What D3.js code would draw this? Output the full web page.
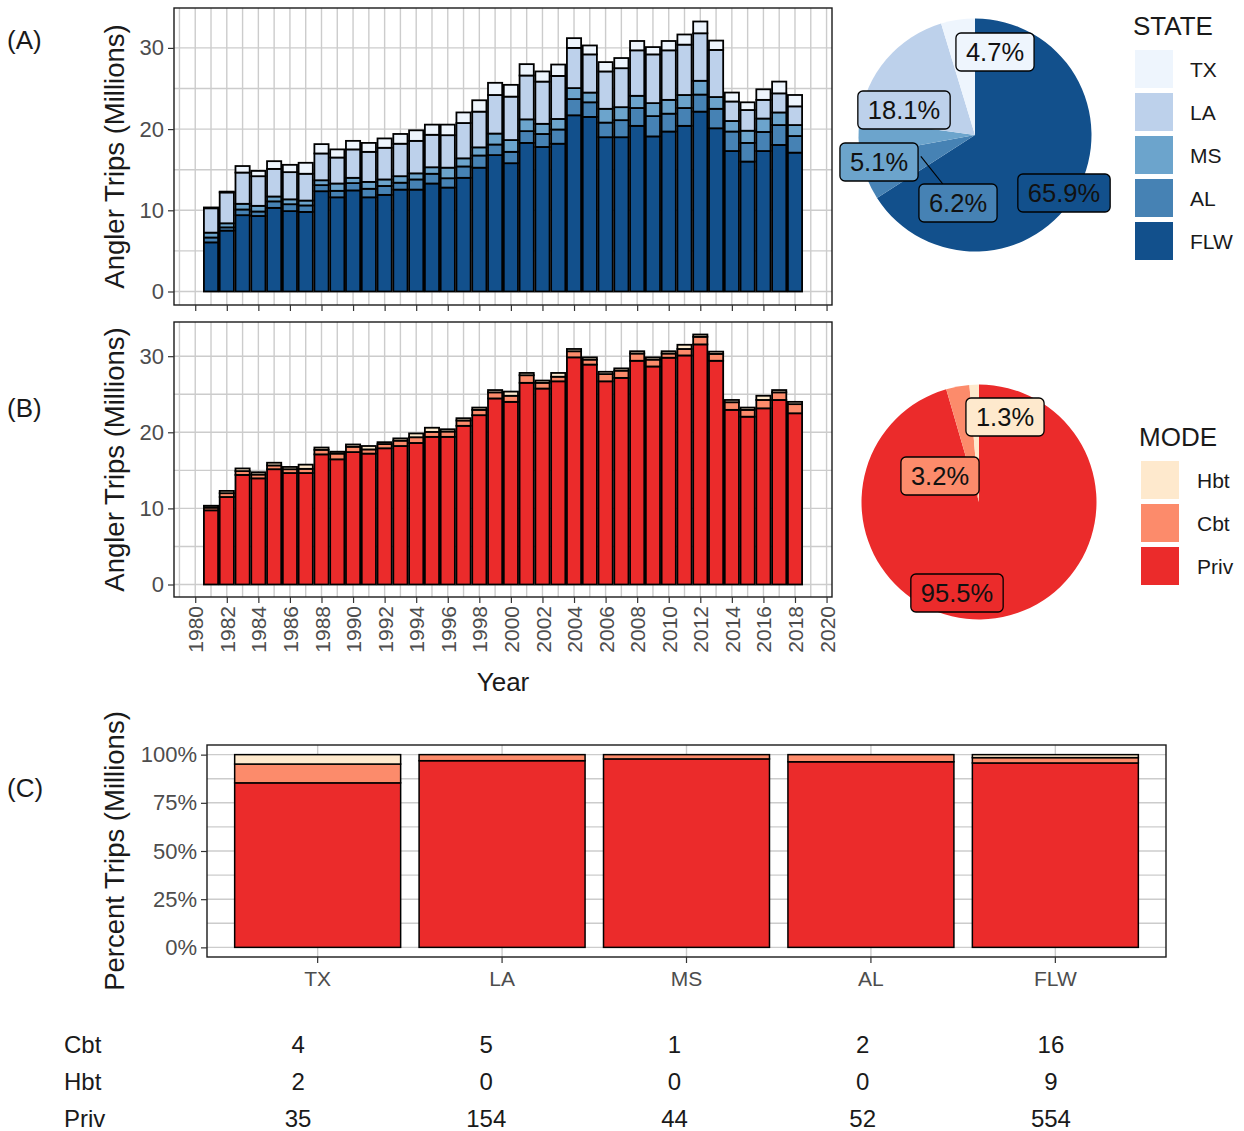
<!DOCTYPE html>
<html>
<head>
<meta charset="utf-8">
<script src="https://cdn.jsdelivr.net/npm/d3@7"></script>
<style>
  body { margin: 0; background: #fff; }
  svg { font-family: "Liberation Sans", Arial, sans-serif; }
</style>
</head>
<body>
<svg id="chart" width="1244" height="1131"></svg>
<script>
// ---- data ----
const years = [1981, 1982, 1983, 1984, 1985, 1986, 1987, 1988, 1989, 1990,
               1991, 1992, 1993, 1994, 1995, 1996, 1997, 1998, 1999, 2000,
               2001, 2002, 2003, 2004, 2005, 2006, 2007, 2008, 2009, 2010,
               2011, 2012, 2013, 2014, 2015, 2016, 2017, 2018];
const yearTicks = [1980, 1982, 1984, 1986, 1988, 1990, 1992, 1994, 1996, 1998, 2000,
                   2002, 2004, 2006, 2008, 2010, 2012, 2014, 2016, 2018, 2020];

// panel A, trips by state (millions)
const tripsFLW = [6.05, 7.5, 9.4, 9.3, 10.3, 9.9, 9.8, 12.35, 11.6, 12.45,
                  11.6, 11.9, 12.55, 12.55, 13.3, 12.8, 14.0, 15.25, 16.8, 15.8,
                  18.3, 17.8, 18.2, 21.7, 21.5, 19.0, 19.0, 20.4, 19.1, 19.7,
                  20.4, 22.15, 20.1, 17.3, 16.0, 17.3, 18.05, 17.1];
const tripsAL = [0.6, 0.4, 0.7, 0.55, 0.8, 0.85, 0.8, 0.75, 0.8, 0.9,
                 1.05, 1.1, 0.85, 1.25, 1.2, 1.15, 1.4, 1.5, 1.3, 1.4,
                 1.45, 1.6, 1.75, 2.0, 1.8, 1.8, 2.1, 2.2, 2.5, 2.2,
                 2.2, 2.1, 2.4, 2.4, 2.3, 2.35, 2.45, 2.05];
const tripsMS = [0.6, 0.5, 0.7, 0.7, 0.6, 0.6, 0.6, 0.6, 0.9, 0.65,
                 0.85, 0.8, 0.8, 0.75, 0.8, 1.3, 1.0, 1.0, 1.35, 1.45,
                 1.45, 1.25, 1.3, 1.35, 1.2, 1.7, 1.6, 1.5, 1.6, 1.7,
                 1.6, 1.7, 1.45, 1.3, 1.5, 1.65, 1.55, 1.35];
const tripsLA = [3.0, 3.8, 3.85, 3.65, 3.4, 3.35, 3.3, 3.3, 3.2, 3.5,
                 3.7, 3.9, 4.0, 4.0, 4.0, 4.0, 4.35, 4.4, 4.75, 5.35,
                 5.4, 5.2, 5.3, 4.95, 4.7, 4.6, 4.8, 5.6, 6.0, 6.1,
                 6.2, 5.85, 5.8, 2.4, 2.55, 2.3, 2.35, 2.3];
const tripsTX = [0.1, 0.1, 0.8, 0.65, 0.95, 0.9, 1.35, 1.15, 1.0, 1.05,
                 1.1, 1.15, 1.2, 1.3, 1.25, 1.3, 1.3, 1.4, 1.5, 1.45,
                 1.4, 1.25, 1.4, 1.2, 1.1, 1.15, 1.25, 1.15, 0.9, 1.15,
                 1.25, 1.45, 1.15, 1.1, 0.95, 1.3, 1.45, 1.4];

// panel B, trips by mode (millions)
const tripsPriv = [9.75, 11.5, 14.4, 13.95, 15.15, 14.65, 14.65, 17.1, 16.45, 17.4,
                   17.2, 17.9, 18.2, 18.6, 19.4, 19.4, 20.85, 22.25, 24.45, 24.0,
                   26.5, 25.75, 26.7, 29.85, 28.9, 26.7, 27.15, 29.4, 28.65, 29.8,
                   30.1, 31.55, 29.4, 22.95, 22.05, 23.15, 24.25, 22.5];
const tripsCbt = [0.35, 0.5, 0.5, 0.5, 0.5, 0.5, 0.55, 0.6, 0.75, 0.7,
                  0.55, 0.55, 0.7, 0.75, 0.65, 0.7, 0.7, 0.7, 0.8, 0.8,
                  1.0, 0.75, 0.6, 0.8, 0.65, 0.95, 0.95, 0.95, 0.9, 0.55,
                  0.85, 1.0, 0.9, 1.0, 0.9, 1.1, 1.0, 1.2];
const tripsHbt = [0.25, 0.3, 0.35, 0.3, 0.35, 0.3, 0.55, 0.3, 0.25, 0.3,
                  0.45, 0.25, 0.3, 0.5, 0.55, 0.3, 0.3, 0.3, 0.3, 0.55,
                  0.3, 0.3, 0.5, 0.3, 0.3, 0.3, 0.3, 0.3, 0.3, 0.3,
                  0.55, 0.3, 0.3, 0.3, 0.3, 0.55, 0.3, 0.3];

// pie shares (%)
const stateKeys = ['FLW', 'AL', 'MS', 'LA', 'TX'];
const statePct = [65.9, 6.2, 5.1, 18.1, 4.7];
const modeKeys = ['Priv', 'Cbt', 'Hbt'];
const modePct = [95.5, 3.2, 1.3];

// panel C counts by state
const states = ['TX', 'LA', 'MS', 'AL', 'FLW'];
const countCbt = [4, 5, 1, 2, 16];
const countHbt = [2, 0, 0, 0, 9];
const countPriv = [35, 154, 44, 52, 554];

// ---- styles ----
const stateColors = { TX: '#eef5fd', LA: '#bdd1eb', MS: '#6ca4cc', AL: '#4682b4', FLW: '#12508c' };
const modeColors = { Hbt: '#fee9cd', Cbt: '#fc8b6b', Priv: '#eb2b2b' };
const gridColor = '#cccccc';
const tickColor = '#4d4d4d';

const svg = d3.select('#chart');

function grid(g, box, xs, ys) {
    g.selectAll(null).data(ys).enter().append('line')
        .attr('x1', box.x0).attr('x2', box.x1)
        .attr('y1', d => d).attr('y2', d => d)
        .attr('stroke', gridColor).attr('stroke-width', 1.4);
    g.selectAll(null).data(xs).enter().append('line')
        .attr('y1', box.y0).attr('y2', box.y1)
        .attr('x1', d => d).attr('x2', d => d)
        .attr('stroke', gridColor).attr('stroke-width', 1.4);
}

function styleAxis(sel, size) {
    sel.select('.domain').remove();
    sel.selectAll('.tick line').attr('stroke', '#333').attr('stroke-width', 1.2);
    sel.selectAll('.tick text').attr('fill', tickColor)
        .style('font-size', size + 'px').style('font-family', '"Liberation Sans", Arial, sans-serif');
}

function yearPanel(box, keys, rows, colors, showLabels) {
    const g = svg.append('g');
    const lo = d3.min(years) - 0.45, hi = d3.max(years) + 0.45, pad = (hi - lo) * 0.05;
    const x = d3.scaleLinear().domain([lo - pad, hi + pad]).range([box.x0, box.x1]);
    const series = d3.stack().keys(keys)(rows);
    const top = d3.max(series[series.length - 1], d => d[1]);
    const y = d3.scaleLinear().domain([-top * 0.05, top * 1.05]).range([box.y1, box.y0]);

    const minorX = yearTicks.map(v => v - 1).concat([yearTicks[yearTicks.length - 1] + 1])
        .filter(v => v > x.domain()[0] && v < x.domain()[1]);
    const majorX = yearTicks.filter(v => v > x.domain()[0] && v < x.domain()[1]);
    const yTicks = [0, 10, 20, 30];
    const minorY = [5, 15, 25, 35].filter(v => v < y.domain()[1]);
    grid(g, box, minorX.concat(majorX).map(x), minorY.concat(yTicks).map(y));

    g.selectAll('g.layer').data(series).enter().append('g')
        .attr('fill', d => colors[d.key])
        .selectAll('rect').data(d => d).enter().append('rect')
        .attr('x', d => x(d.data.year - 0.45))
        .attr('width', d => x(d.data.year + 0.45) - x(d.data.year - 0.45))
        .attr('y', d => y(d[1]))
        .attr('height', d => y(d[0]) - y(d[1]))
        .attr('stroke', '#000').attr('stroke-width', 1.8);

    g.append('rect')
        .attr('x', box.x0).attr('y', box.y0)
        .attr('width', box.x1 - box.x0).attr('height', box.y1 - box.y0)
        .attr('fill', 'none').attr('stroke', '#1a1a1a').attr('stroke-width', 1.4);

    const ya = g.append('g').attr('transform', `translate(${box.x0},0)`)
        .call(d3.axisLeft(y).tickValues(yTicks).tickSize(6).tickPadding(4));
    styleAxis(ya, 22);

    const xa = g.append('g').attr('transform', `translate(0,${box.y1})`)
        .call(d3.axisBottom(x).tickValues(yearTicks).tickSize(6)
            .tickFormat(showLabels ? d3.format('d') : ''));
    styleAxis(xa, 21);
    if (showLabels) {
        xa.selectAll('.tick text')
            .attr('transform', 'rotate(-90)')
            .attr('text-anchor', 'end')
            .attr('x', -9).attr('y', 0).attr('dy', '0.36em');
    }
    return { x, y };
}

function yTitle(text, box) {
    svg.append('text')
        .attr('transform', `translate(124,${(box.y0 + box.y1) / 2}) rotate(-90)`)
        .attr('text-anchor', 'middle')
        .style('font-size', '27.5px').attr('fill', '#1a1a1a')
        .text(text);
}

function tag(text, yy) {
    svg.append('text').attr('x', 7).attr('y', yy)
        .style('font-size', '26px').attr('fill', '#1a1a1a').text(text);
}

function pie(center, r, keys, pct, colors, labelAt, leaderKey) {
    const g = svg.append('g').attr('transform', `translate(${center[0]},${center[1]})`);
    const items = keys.map((k, i) => ({ key: k, pct: pct[i] }));
    const arcs = d3.pie().sort(null).value(d => d.pct)(items);
    const arc = d3.arc().innerRadius(0).outerRadius(r);
    g.selectAll('path').data(arcs).enter().append('path')
        .attr('d', arc).attr('fill', d => colors[d.data.key]);

    const lines = g.append('g');
    arcs.forEach(a => {
        const p = labelAt[a.data.key];
        const lg = g.append('g');
        const t = lg.append('text')
            .attr('x', p[0]).attr('y', p[1]).attr('dy', '0.35em')
            .attr('text-anchor', 'middle')
            .style('font-size', '25.5px').attr('fill', '#111')
            .text(a.data.pct.toFixed(1) + '%');
        const bb = t.node().getBBox();
        const w = bb.width + 20, h = 38;
        lg.insert('rect', 'text')
            .attr('x', p[0] - w / 2).attr('y', p[1] - h / 2)
            .attr('width', w).attr('height', h).attr('rx', 5)
            .attr('fill', colors[a.data.key]).attr('stroke', '#000').attr('stroke-width', 1.3);
        if (a.data.key === leaderKey) {
            // segment from the slice anchor towards the label, stopping at the box edge
            const c = arc.centroid(a);
            const dx = p[0] - c[0], dy = p[1] - c[1];
            const t1 = Math.max(1 - (w / 2) / Math.abs(dx), 1 - (h / 2) / Math.abs(dy));
            lines.append('line')
                .attr('x1', c[0]).attr('y1', c[1])
                .attr('x2', c[0] + dx * t1).attr('y2', c[1] + dy * t1)
                .attr('stroke', '#000').attr('stroke-width', 1.2);
        }
    });
}

function legend(x, yTitleBase, title, keys, colors, keyTop, labelX) {
    const g = svg.append('g');
    g.append('text').attr('x', x).attr('y', yTitleBase)
        .style('font-size', '26px').attr('fill', '#1a1a1a').text(title);
    const pitch = 43, size = 38;
    keys.forEach((k, i) => {
        g.append('rect').attr('x', x + 2).attr('y', keyTop + i * pitch)
            .attr('width', size).attr('height', size).attr('fill', colors[k]);
        g.append('text').attr('x', labelX).attr('y', keyTop + i * pitch + size / 2)
            .attr('dy', '0.36em').style('font-size', '21px').attr('fill', '#1a1a1a').text(k);
    });
}

// ---- panel A ----
const boxA = { x0: 174, x1: 832, y0: 8, y1: 305 };
const rowsA = years.map((yr, i) => ({
    year: yr, FLW: tripsFLW[i], AL: tripsAL[i], MS: tripsMS[i], LA: tripsLA[i], TX: tripsTX[i]
}));
yearPanel(boxA, ['FLW', 'AL', 'MS', 'LA', 'TX'], rowsA, stateColors, false);
yTitle('Angler Trips (Millions)', boxA);
tag('(A)', 49);
pie([975, 135], 116.5, stateKeys, statePct, stateColors,
    { TX: [20, -83], LA: [-71, -25], MS: [-96, 27], AL: [-17, 68], FLW: [89, 58] }, 'AL');
legend(1133, 35, 'STATE', ['TX', 'LA', 'MS', 'AL', 'FLW'], stateColors, 50, 1190);

// ---- panel B ----
const boxB = { x0: 174, x1: 832, y0: 322, y1: 597 };
const rowsB = years.map((yr, i) => ({
    year: yr, Priv: tripsPriv[i], Cbt: tripsCbt[i], Hbt: tripsHbt[i]
}));
yearPanel(boxB, ['Priv', 'Cbt', 'Hbt'], rowsB, modeColors, true);
yTitle('Angler Trips (Millions)', boxB);
tag('(B)', 417);
svg.append('text').attr('x', (boxB.x0 + boxB.x1) / 2).attr('y', 691)
    .attr('text-anchor', 'middle').style('font-size', '26px').attr('fill', '#1a1a1a').text('Year');
pie([979, 502], 117.5, modeKeys, modePct, modeColors,
    { Hbt: [26, -85], Cbt: [-39, -26], Priv: [-22, 91] }, null);
legend(1139, 446, 'MODE', ['Hbt', 'Cbt', 'Priv'], modeColors, 461, 1197);

// ---- panel C ----
const boxC = { x0: 207, x1: 1166, y0: 745, y1: 957 };
const rowsC = states.map((s, i) => ({ state: s, Priv: countPriv[i], Cbt: countCbt[i], Hbt: countHbt[i] }));
const xC = d3.scaleBand().domain(states).range([boxC.x0, boxC.x1]).paddingInner(0.1).paddingOuter(0.15);
const yC = d3.scaleLinear().domain([-0.05, 1.05]).range([boxC.y1, boxC.y0]);
const gC = svg.append('g');
const pctTicks = [0, 0.25, 0.5, 0.75, 1];
grid(gC, boxC, states.map(s => xC(s) + xC.bandwidth() / 2),
    pctTicks.concat([0.125, 0.375, 0.625, 0.875]).map(yC));
const seriesC = d3.stack().keys(['Priv', 'Cbt', 'Hbt']).offset(d3.stackOffsetExpand)(rowsC);
gC.selectAll('g.layer').data(seriesC).enter().append('g')
    .attr('fill', d => modeColors[d.key])
    .selectAll('rect').data(d => d).enter().append('rect')
    .attr('x', d => xC(d.data.state))
    .attr('width', xC.bandwidth())
    .attr('y', d => yC(d[1]))
    .attr('height', d => yC(d[0]) - yC(d[1]))
    .attr('stroke', '#000').attr('stroke-width', 1.5);
gC.append('rect')
    .attr('x', boxC.x0).attr('y', boxC.y0)
    .attr('width', boxC.x1 - boxC.x0).attr('height', boxC.y1 - boxC.y0)
    .attr('fill', 'none').attr('stroke', '#1a1a1a').attr('stroke-width', 1.4);
const yaC = gC.append('g').attr('transform', `translate(${boxC.x0},0)`)
    .call(d3.axisLeft(yC).tickValues(pctTicks).tickFormat(d3.format('.0%')).tickSize(6).tickPadding(4));
styleAxis(yaC, 22);
const xaC = gC.append('g').attr('transform', `translate(0,${boxC.y1})`)
    .call(d3.axisBottom(xC).tickSize(6).tickPadding(8));
styleAxis(xaC, 21);
yTitle('Percent Trips (Millions)', boxC);
tag('(C)', 797);

// ---- count table ----
const tableRows = [['Cbt', countCbt], ['Hbt', countHbt], ['Priv', countPriv]];
const xT = d3.scaleBand().domain(states).range([204, 1145]);
tableRows.forEach((r, i) => {
    const yy = 1044 + i * 37;
    svg.append('text').attr('x', 64).attr('y', yy).attr('dy', '0.36em')
        .style('font-size', '24px').attr('fill', '#1a1a1a').text(r[0]);
    svg.selectAll(null).data(r[1]).enter().append('text')
        .attr('x', (d, j) => xT(states[j]) + xT.bandwidth() / 2)
        .attr('y', yy).attr('dy', '0.36em')
        .attr('text-anchor', 'middle')
        .style('font-size', '24px').attr('fill', '#1a1a1a')
        .text(d => d);
});
</script>
</body>
</html>
